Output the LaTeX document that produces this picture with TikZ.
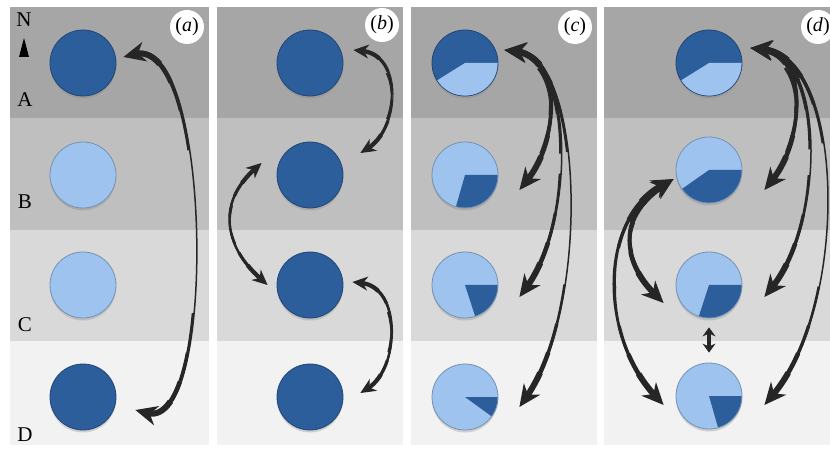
\documentclass[tikz,border=0pt]{standalone}
\usepackage{fontspec}
\setmainfont{Liberation Serif}
\usetikzlibrary{arrows.meta,shadows}
\definecolor{deepblue}{HTML}{2C5E9C}
\definecolor{paleblue}{HTML}{9DC3EE}
\definecolor{bandA}{HTML}{A6A6A6}
\definecolor{bandB}{HTML}{BFBFBF}
\definecolor{bandC}{HTML}{D9D9D9}
\definecolor{bandD}{HTML}{F2F2F2}
\tikzset{disk/.style={circle,minimum size=66pt,inner sep=0pt,fill=#1,draw=#1!75!black,line width=0.8pt,
    drop shadow={shadow xshift=0pt,shadow yshift=-2.5pt,opacity=0.3}}}
\tikzset{tag/.style={circle,fill=white,minimum size=34pt,inner sep=0pt,font=\fontsize{20}{20}\selectfont}}
\tikzset{zone/.style={font=\fontsize{21}{21}\selectfont}}
\tikzset{flow/.style={line width=#1*1.5pt,black!85,
    {Stealth[length=22pt,width=20pt,inset=7pt,scale=#1]}-{Stealth[length=22pt,width=20pt,inset=7pt,scale=#1]}}}
% tapered double arrow: [scale]{start}{end}{control 1}{control 2}
\newcommand{\flowarrow}[5][1]{%
  \draw[flow=#1] (#2) .. controls +(#4) and +(#5) .. (#3);
  \foreach \w/\l in {2.3/120,3.3/80,4.5/50,6/28}{
    \pgfmathsetmacro\lenX{#1*\l}
    \draw[black!85,line width=#1*\w pt,shorten <=#1*12pt,dash pattern=on \lenX pt off 3000pt]
      (#2) .. controls +(#4) and +(#5) .. (#3);
    \draw[black!85,line width=#1*\w pt,shorten <=#1*12pt,dash pattern=on \lenX pt off 3000pt]
      (#3) .. controls +(#5) and +(#4) .. (#2);
  }}
% coloured slice of a disk
\newcommand{\slice}[4]{\fill[#4] (#1.center) -- ++(#2:32.6) arc[start angle=#2,end angle=#3,radius=32.6] -- cycle;}

\begin{document}
\begin{tikzpicture}[x=1pt,y=1pt]
  \useasboundingbox (0,0) rectangle (830,450);
  \foreach \xl/\xr in {10/209,217/403,411/597,604/840}
    \foreach \yb/\yt/\c in {332/443/bandA,220/332/bandB,109/220/bandC,5/109/bandD}
      \fill[\c] (\xl,\yb) rectangle (\xr,\yt);

  % panel (a)
  \node[disk=deepblue] (a1) at (83,387) {};
  \node[disk=paleblue] (a2) at (83,275) {};
  \node[disk=paleblue] (a3) at (83,165) {};
  \node[disk=deepblue] (a4) at (83,53) {};

  % panel (b)
  \node[disk=deepblue] (b1) at (310,387) {};
  \node[disk=deepblue] (b2) at (310,275) {};
  \node[disk=deepblue] (b3) at (310,165) {};
  \node[disk=deepblue] (b4) at (310,53) {};

  % panel (c)
  \node[disk=deepblue] (c1) at (465,387) {};
  \node[disk=paleblue] (c2) at (465,275) {};
  \node[disk=paleblue] (c3) at (465,165) {};
  \node[disk=paleblue] (c4) at (465,53) {};
  \slice{c1}{212}{360}{paleblue}
  \slice{c2}{254}{360}{deepblue}
  \slice{c3}{288}{360}{deepblue}
  \slice{c4}{324}{360}{deepblue}

  % panel (d)
  \node[disk=deepblue] (d1) at (709,387) {};
  \node[disk=paleblue] (d2) at (709,280) {};
  \node[disk=paleblue] (d3) at (709,165) {};
  \node[disk=paleblue] (d4) at (709,54) {};
  \slice{d1}{212}{360}{paleblue}
  \slice{d2}{215}{360}{deepblue}
  \slice{d3}{252}{360}{deepblue}
  \slice{d4}{286}{360}{deepblue}

  \node[zone] (lN) at (24,430) {N};
  \fill (24,412) -- (29,393) -- (19,393) -- cycle;
  \node[zone] (lA) at (25,350) {A};
  \node[zone] (lB) at (25,248) {B};
  \node[zone] (lC) at (25,125) {C};
  \node[zone] (lD) at (25,15) {D};

  \node[tag] (ta) at (187,423) {(\textit{a})};
  \node[tag] (tb) at (382,425) {(\textit{b})};
  \node[tag] (tc) at (575,423) {(\textit{c})};
  \node[tag] (td) at (818,423) {(\textit{d})};

  \flowarrow{[shift={(7,6)}]a1.east}{[shift={(19,-13)}]a4.east}{88,22}{82,-22}

  \flowarrow[0.7]{[shift={(10,13)}]b1.east}{[shift={(17,22)}]b2.east}{50,-5}{40,25}
  \flowarrow[0.7]{[shift={(-15,12)}]b2.west}{[shift={(-9,0)}]b3.west}{-45,-40}{-45,40}
  \flowarrow[0.7]{[shift={(9,3)}]b3.east}{[shift={(17,4)}]b4.east}{50,-5}{40,25}

  \flowarrow{[shift={(6,13)}]c1.east}{[shift={(21,-15)}]c2.east}{60,-8}{40,50}
  \flowarrow{[shift={(6,13)}]c1.east}{[shift={(21,-12)}]c3.east}{70,-8}{55,75}
  \flowarrow{[shift={(6,13)}]c1.east}{[shift={(21,-10)}]c4.east}{80,-8}{70,100}

  \flowarrow{[shift={(8,15)}]d1.east}{[shift={(22,-20)}]d2.east}{60,-8}{40,50}
  \flowarrow{[shift={(8,15)}]d1.east}{[shift={(22,-12)}]d3.east}{75,-8}{60,75}
  \flowarrow{[shift={(8,15)}]d1.east}{[shift={(22,-9)}]d4.east}{95,-8}{85,100}
  \flowarrow{[shift={(-2,-9)}]d2.west}{[shift={(-12,-18)}]d3.west}{-55,-35}{-45,45}
  \flowarrow{[shift={(-2,-9)}]d2.west}{[shift={(-12,-9)}]d4.west}{-75,-40}{-65,70}
  \draw[black!85,line width=4pt,{Stealth[length=9pt,width=13pt]}-{Stealth[length=9pt,width=13pt]},
    shorten <=9pt,shorten >=10pt] (d3.south) -- (d4.north);
\end{tikzpicture}
\end{document}
